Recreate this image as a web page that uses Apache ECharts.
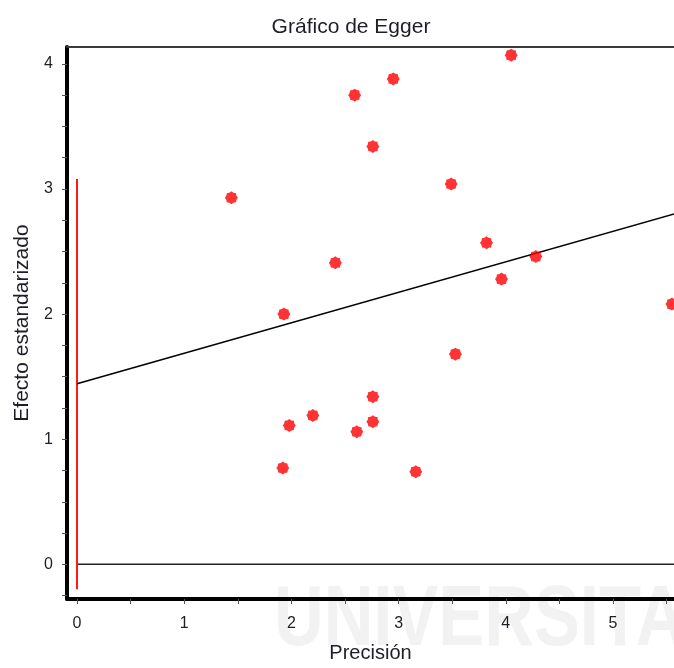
<!DOCTYPE html>
<html>
<head>
<meta charset="utf-8">
<script src="https://cdn.jsdelivr.net/npm/echarts@6/dist/echarts.min.js"></script>
<style>
html,body{margin:0;padding:0;background:#fff;overflow:hidden;}
#chart{width:674px;height:668px;}
</style>
</head>
<body>
<div id="chart"></div>
<script>
// ---- data ----
const precision = [1.44, 1.93, 1.98, 1.92, 2.20, 2.41, 2.59, 2.61, 2.76, 2.76, 2.76, 2.95, 3.16, 3.49, 3.53, 3.82, 3.96, 4.05, 4.28, 5.55];
const standardizedEffect = [2.93, 2.00, 1.11, 0.77, 1.19, 2.41, 3.75, 1.06, 3.34, 1.34, 1.14, 3.88, 0.74, 3.04, 1.68, 2.57, 2.28, 4.07, 2.46, 2.08];
const regressionX = [0, 6];
const regressionY = [1.444, 2.905];
const zeroLineX = [0, 6];
const zeroLineY = [0, 0];
const interceptBarX = [0, 0];
const interceptBarY = [-0.2, 3.08];
const xTickValues = [0, 0.5, 1, 1.5, 2, 2.5, 3, 3.5, 4, 4.5, 5, 5.5];
const xLabelValues = [0, 1, 2, 3, 4, 5];
const yTickValues = [-0.25, 0, 0.25, 0.5, 0.75, 1, 1.25, 1.5, 1.75, 2, 2.25, 2.5, 2.75, 3, 3.25, 3.5, 3.75, 4];
const yLabelValues = [0, 1, 2, 3, 4];
const titleText = 'Gráfico de Egger';
const xName = 'Precisión';
const yName = 'Efecto estandarizado';

function zip(a, b) { return a.map((v, i) => [v, b[i]]); }

// star-like marker path
let pts = [];
for (let i = 0; i < 16; i++) {
  const ang = Math.PI * 2 * i / 16;
  const r = i % 2 === 0 ? 10 : 8.4;
  pts.push((10 + r * Math.cos(ang)).toFixed(2) + ',' + (10 + r * Math.sin(ang)).toFixed(2));
}
const starPath = 'path://M' + pts.join('L') + 'Z';

const FONT = '"Liberation Sans", Arial, sans-serif';
const TXT = '#1e1e28';

const chart = echarts.init(document.getElementById('chart'), null, {renderer: 'canvas'});
chart.setOption({
  animation: false,
  backgroundColor: '#ffffff',
  title: {
    text: titleText,
    left: 346,
    textAlign: 'center',
    top: 12,
    textStyle: {fontFamily: FONT, fontSize: 21, fontWeight: 'normal', color: TXT}
  },
  graphic: [{
    type: 'text',
    left: 274,
    top: 578,
    z: -10,
    silent: true,
    scaleX: 0.8,
    style: {text: 'UNIVERSITAS', font: 'bold 86px "Liberation Sans", Arial, sans-serif', fill: '#f2f2f2'}
  }],
  grid: {left: 67, top: 47, width: 607, height: 557, containLabel: false},
  xAxis: [{
    type: 'value',
    min: -0.0933,
    max: 5.569,
    position: 'bottom',
    name: xName,
    nameLocation: 'middle',
    nameGap: 44,
    nameTextStyle: {fontFamily: FONT, fontSize: 20, color: TXT},
    splitLine: {show: false},
    axisLine: {show: true, onZero: false, lineStyle: {color: '#000', width: 4}},
    axisTick: {show: true, inside: false, length: 5, customValues: xTickValues, lineStyle: {color: '#555', width: 1}},
    axisLabel: {show: true, margin: 17, customValues: xLabelValues, fontFamily: FONT, fontSize: 16, color: TXT,
      formatter: v => String(Math.round(v))}
  }, {
    type: 'value',
    min: -0.0933,
    max: 5.569,
    position: 'top',
    splitLine: {show: false},
    axisLine: {show: true, onZero: false, lineStyle: {color: '#3a3a3a', width: 2}},
    axisTick: {show: false},
    axisLabel: {show: false}
  }],
  yAxis: {
    type: 'value',
    min: -0.277,
    max: 4.135,
    name: yName,
    nameLocation: 'middle',
    nameGap: 31,
    nameTextStyle: {fontFamily: FONT, fontSize: 21, color: TXT},
    splitLine: {show: false},
    axisLine: {show: true, onZero: false, lineStyle: {color: '#000', width: 4}},
    axisTick: {show: true, inside: false, length: 5, customValues: yTickValues, lineStyle: {color: '#555', width: 1}},
    axisLabel: {show: true, margin: 14, customValues: yLabelValues, fontFamily: FONT, fontSize: 16, color: TXT,
      formatter: v => String(Math.round(v))}
  },
  series: [{
    type: 'line',
    data: zip(zeroLineX, zeroLineY),
    symbol: 'none',
    lineStyle: {color: '#222', width: 1.5},
    z: 1
  }, {
    type: 'line',
    data: zip(interceptBarX, interceptBarY),
    symbol: 'none',
    lineStyle: {color: '#ff1a1a', width: 2},
    z: 2
  }, {
    type: 'line',
    data: zip(regressionX, regressionY),
    symbol: 'none',
    lineStyle: {color: '#000', width: 1.5},
    z: 3
  }, {
    type: 'scatter',
    data: zip(precision, standardizedEffect),
    symbol: starPath,
    symbolSize: 13,
    itemStyle: {color: '#ff0000'},
    z: 4
  }]
});
</script>
</body>
</html>
